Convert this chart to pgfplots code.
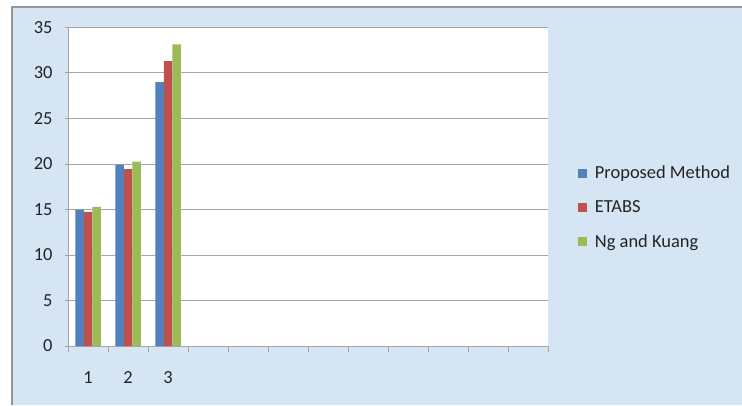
\documentclass[border=0pt]{standalone}
\usepackage{fontspec}
\setmainfont{Carlito}
\usepackage{pgfplots}
\pgfplotsset{compat=1.18}
\definecolor{bgblue}{RGB}{214,229,244}
\definecolor{framegray}{RGB}{150,150,150}
\definecolor{gridgray}{RGB}{165,165,165}
\definecolor{pmblue}{RGB}{79,129,189}
\definecolor{etred}{RGB}{192,80,77}
\definecolor{nkgreen}{RGB}{155,187,89}
\definecolor{txt}{RGB}{35,35,35}

\begin{document}
\begin{tikzpicture}[x=1bp,y=1bp]
\useasboundingbox (0,0) rectangle (742,405);
\fill[white] (0,0) rectangle (742,405);
\fill[bgblue] (12,0) rectangle (742,398);
\draw[framegray, line width=1.2bp] (12,0) -- (12,398) -- (742,398);
\begin{axis}[
    at={(68bp,59bp)}, anchor=south west,
    scale only axis,
    width=480bp, height=318.5bp,
    xmin=0.5, xmax=12.5,
    ymin=0, ymax=35,
    ytick={0,5,...,35},
    xtick={1,2,3},
    xticklabels={1,2,3},
    minor xtick={0.5,1.5,...,12.5},
    major x tick style={draw=none},
    tick align=outside,
    major tick length=6bp,
    minor tick length=6bp,
    tick style={gridgray, line width=1bp},
    axis lines=left,
    axis line style={-, gridgray, line width=1bp},
    ymajorgrids,
    grid style={gridgray, line width=1bp},
    axis background/.style={fill=white},
    /pgf/number format/assume math mode=true,
    tick label style={font=\fontsize{18.5}{20}\selectfont, text=txt},
    xticklabel style={yshift=-16bp},
    yticklabel style={xshift=-9bp},
    ybar=0pt,
    bar width=8.5bp,
    legend style={at={(axis description cs:1.062,0.435)}, anchor=west,
        draw=none, fill=none, font=\fontsize{18.5}{20}\selectfont, text=txt,
        row sep=16.5bp, inner sep=0pt,
        /tikz/every odd column/.append style={column sep=6bp}},
    legend cell align=left,
    legend image code/.code={\fill[#1] (0bp,-4.5bp) rectangle (9bp,4.5bp);},
]
\addplot[fill=pmblue, draw=none] coordinates {(1,15.0) (2,19.9) (3,29.0)};
\addlegendentry{Proposed Method}
\addplot[fill=etred, draw=none] coordinates {(1,14.75) (2,19.45) (3,31.3)};
\addlegendentry{ETABS}
\addplot[fill=nkgreen, draw=none] coordinates {(1,15.3) (2,20.25) (3,33.15)};
\addlegendentry{Ng and Kuang}
\end{axis}
\end{tikzpicture}
\end{document}
